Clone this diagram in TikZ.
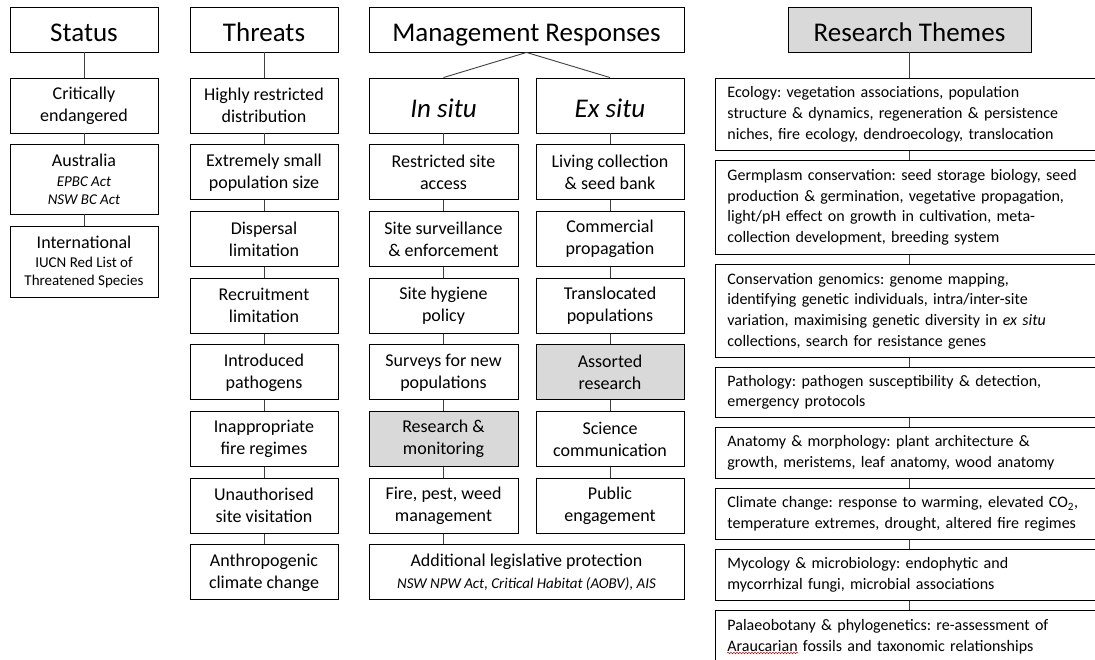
\documentclass[tikz,border=0pt]{standalone}
\usepackage{fontspec}
\setmainfont{Carlito}
\usetikzlibrary{decorations.pathmorphing}
\definecolor{boxgrey}{HTML}{D9D9D9}
\definecolor{linegrey}{HTML}{404040}
\begin{document}
\frenchspacing
\begin{tikzpicture}[x=1pt,y=-1pt,
 box/.style={draw=black, line width=0.9pt, fill=white, inner sep=0pt, align=center,
   font=\fontsize{18}{22}\selectfont, minimum width=148pt, minimum height=55pt},
 hdr/.style={box, font=\fontsize{27}{32}\selectfont, minimum height=45pt, text height=23pt, text depth=0pt},
 shade/.style={fill=boxgrey},
 theme/.style={draw=black, line width=0.9pt, fill=white, anchor=north west, align=left,
   text width=380pt, inner xsep=12pt, inner ysep=0pt, font=\fontsize{16}{20.7}\selectfont},
 link/.style={draw=linegrey, line width=0.9pt}
]
\fill[white] (0,0) rectangle (1095,659);
\clip (0,0) rectangle (1095,659);

% ---------------- Status ----------------
\node[hdr] (st) at (84,29.5) {Status};
\node[box] (st1) at (84,105.5) {Critically\\endangered};
\node[box, minimum height=70pt, font=\fontsize{15}{18}\selectfont] (st2) at (84,179)
  {{\fontsize{18}{22}\selectfont Australia}\\[2pt]\textit{EPBC Act}\\\textit{NSW BC Act}};
\node[box, minimum height=71pt, font=\fontsize{15}{18}\selectfont] (st3) at (84,261.5)
  {{\fontsize{18}{22}\selectfont International}\\[1pt]IUCN Red List of\\Threatened Species};
\draw[link] (st.south) -- (st1.north);
\draw[link] (st1.south) -- (st2.north);
\draw[link] (st2.south) -- (st3.north);

% ---------------- Threats ----------------
\node[hdr] (th) at (264,29.5) {Threats};
\node[box] (th1) at (264,105.5) {Highly restricted\\distribution};
\node[box] (th2) at (264,172.2) {Extremely small\\population size};
\node[box] (th3) at (264,238.9) {Dispersal\\limitation};
\node[box] (th4) at (264,305.6) {Recruitment\\limitation};
\node[box] (th5) at (264,372.3) {Introduced\\pathogens};
\node[box] (th6) at (264,439) {Inappropriate\\fire regimes};
\node[box] (th7) at (264,505.7) {Unauthorised\\site visitation};
\node[box] (th8) at (264,572.4) {Anthropogenic\\climate change};
\draw[link] (th.south) -- (th1.north);
\foreach \a/\b in {th1/th2,th2/th3,th3/th4,th4/th5,th5/th6,th6/th7,th7/th8}
  \draw[link] (\a.south) -- (\b.north);

% ---------------- Management ----------------
\node[hdr, minimum width=315pt] (mg) at (526.5,29.5) {Management Responses};
\node[hdr, minimum width=149pt, minimum height=55pt, font=\fontsize{27}{32}\selectfont\itshape] (ins) at (443.5,105.5) {In situ};
\node[hdr, minimum height=55pt, font=\fontsize{27}{32}\selectfont\itshape] (exs) at (610,105.5) {Ex situ};
\draw[link] (mg.south) -- (ins.north);
\draw[link] (mg.south) -- (exs.north);

\node[box, minimum width=149pt] (in1) at (443.5,172.2) {Restricted site\\access};
\node[box, minimum width=149pt] (in2) at (443.5,238.9) {Site surveillance\\\& enforcement};
\node[box, minimum width=149pt] (in3) at (443.5,305.6) {Site hygiene\\policy};
\node[box, minimum width=149pt] (in4) at (443.5,372.3) {Surveys for new\\populations};
\node[box, shade, minimum width=149pt] (in5) at (443.5,439) {Research \&\\monitoring};
\node[box, minimum width=149pt] (in6) at (443.5,505.7) {Fire, pest, weed\\management};

\node[box] (ex1) at (610,172.2) {Living collection\\\& seed bank};
\node[box] (ex2) at (610,238.9) {Commercial\\propagation};
\node[box] (ex3) at (610,305.6) {Translocated\\populations};
\node[box, shade] (ex4) at (610,372.3) {Assorted\\research};
\node[box] (ex5) at (610,439) {Science\\communication};
\node[box] (ex6) at (610,505.7) {Public\\engagement};

\node[box, minimum width=315pt] (add) at (526.5,572.4)
  {Additional legislative protection\\{\fontsize{15}{18}\selectfont\itshape NSW NPW Act, Critical Habitat (AOBV), AIS}};

\foreach \a/\b in {ins/in1,in1/in2,in2/in3,in3/in4,in4/in5,in5/in6,exs/ex1,ex1/ex2,ex2/ex3,ex3/ex4,ex4/ex5,ex5/ex6}
  \draw[link] (\a.south) -- (\b.north);
\draw[link] (in6.south) -- (add.north -| in6.south);

% ---------------- Research Themes ----------------
\node[hdr, shade, minimum width=243pt] (rt) at (909.5,29.5) {Research Themes};
\node[theme, minimum height=72pt] (t1) at (715,78)
  {Ecology: vegetation associations, population\\structure \& dynamics, regeneration \& persistence\\niches, fire ecology, dendroecology, translocation};
\node[theme, minimum height=94pt] (t2) at (715,160)
  {Germplasm conservation: seed storage biology, seed\\production \& germination, vegetative propagation,\\light/pH effect on growth in cultivation, meta-\\collection development, breeding system};
\node[theme, minimum height=93pt] (t3) at (715,264)
  {Conservation genomics: genome mapping,\\identifying genetic individuals, intra/inter-site\\variation, maximising genetic diversity in \textit{ex situ}\\collections, search for resistance genes};
\node[theme, minimum height=50pt] (t4) at (715,367)
  {Pathology: pathogen susceptibility \& detection,\\emergency protocols};
\node[theme, minimum height=51pt] (t5) at (715,427)
  {Anatomy \& morphology: plant architecture \&\\growth, meristems, leaf anatomy, wood anatomy};
\node[theme, minimum height=51pt] (t6) at (715,488)
  {Climate change: response to warming, elevated CO\textsubscript{2},\\temperature extremes, drought, altered fire regimes};
\node[theme, minimum height=51pt] (t7) at (715,549)
  {Mycology \& microbiology: endophytic and\\mycorrhizal fungi, microbial associations};
\node[theme, minimum height=52pt] (t8) at (715,610)
  {Palaeobotany \& phylogenetics: re-assessment of\\Araucarian fossils and taxonomic relationships};
\draw[link] (rt.south) -- (t1.north -| rt.south);
\foreach \a/\b in {t1/t2,t2/t3,t3/t4,t4/t5,t5/t6,t6/t7,t7/t8}
  \draw[link] (\a.south -| rt.south) -- (\b.north -| rt.south);
\draw[red!80!black, line width=0.5pt, decorate, decoration={snake, amplitude=0.7pt, segment length=3pt}]
  ([shift={(12,43)}]t8.north west) -- ([shift={(83,43)}]t8.north west);
\end{tikzpicture}
\end{document}
